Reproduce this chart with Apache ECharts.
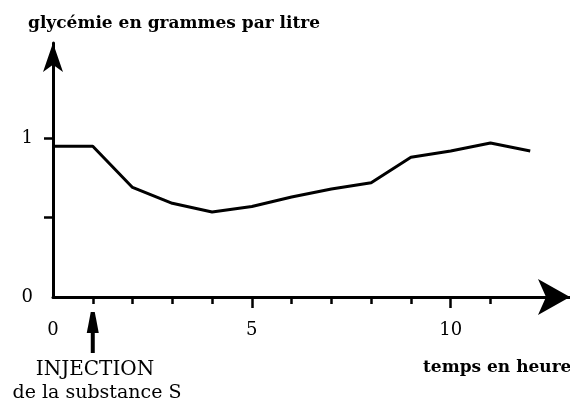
<!DOCTYPE html>
<html>
<head>
<meta charset="utf-8">
<script src="https://cdn.jsdelivr.net/npm/echarts@6/dist/echarts.min.js"></script>
<style>
  html, body { margin: 0; padding: 0; background: #fff; }
  #main { width: 570px; height: 403px; }
</style>
</head>
<body>
<div id="main"></div>
<script>
// temps (h) et glycémie (g/L)
var heures = [0, 1, 2, 3, 4, 5, 6, 7, 8, 9, 10, 11, 12];
var glycemie = [0.95, 0.95, 0.69, 0.59, 0.535, 0.57, 0.63, 0.68, 0.72, 0.88, 0.92, 0.97, 0.92];
var ticksX = [1, 2, 3, 4, 6, 7, 8, 9, 11];
var ticksXLong = [5, 10];
var labelsX = [0, 5, 10];
var ticksY = [0.5, 1];
var labelsY = [0, 1];
var injection = 1; // heure de l'injection

var serif = 'DejaVu Serif';
var points = [];
for (var i = 0; i < heures.length; i++) {
	points.push([heures[i], glycemie[i]]);
}

var chart = echarts.init(document.getElementById('main'));
var option = {
	animation: false,
	backgroundColor: '#fff',
	title: [{
		text: 'glycémie en grammes par litre',
		left: 23, top: 10,
		textStyle: { fontFamily: serif, fontWeight: 'bold', fontSize: 17, color: '#000' }
	}, {
		text: 'temps en heure',
		left: 418, top: 354,
		textStyle: { fontFamily: serif, fontWeight: 'bold', fontSize: 17, color: '#000' }
	}],
	grid: { left: 53, right: -3, top: 43, bottom: 106, containLabel: false },
	xAxis: [{
		type: 'value',
		min: 0, max: 13,
		axisLine: {
			show: true,
			lineStyle: { color: '#000', width: 3 },
			symbol: ['none', 'arrow'],
			symbolSize: [27, 32]
		},
		axisTick: { show: true, customValues: ticksX, length: 7, lineStyle: { color: '#000', width: 2.5 } },
		axisLabel: {
			customValues: labelsX, margin: 24,
			fontFamily: serif, fontSize: 18, color: '#000'
		},
		splitLine: { show: false }
	}, {
		type: 'value',
		min: 0, max: 13,
		position: 'bottom',
		axisLine: { show: false },
		axisTick: { show: true, customValues: ticksXLong, length: 11, lineStyle: { color: '#000', width: 2.5 } },
		axisLabel: { show: false },
		splitLine: { show: false }
	}],
	yAxis: {
		type: 'value',
		min: 0, max: 1.6,
		axisLine: {
			show: true,
			lineStyle: { color: '#000', width: 3 },
			symbol: ['none', 'arrow'],
			symbolSize: [15, 29]
		},
		axisTick: { show: true, customValues: ticksY, length: 9, lineStyle: { color: '#000', width: 2.5 } },
		axisLabel: {
			customValues: labelsY, margin: 20,
			fontFamily: serif, fontSize: 18, color: '#000'
		},
		splitLine: { show: false }
	},
	series: [{
		type: 'line',
		data: points,
		symbol: 'none',
		lineStyle: { color: '#000', width: 3 },
		z: 3
	}]
};
chart.setOption(option);

// flèche d'injection sous l'axe, placée à l'heure de l'injection
var px = chart.convertToPixel({ xAxisIndex: 0 }, injection);
chart.setOption({
	graphic: [{
		type: 'polygon',
		shape: { points: [[px - 1.5, 333], [px - 6, 333], [px - 2, 312], [px + 2, 312], [px + 6, 333], [px + 1.5, 333]] },
		style: { fill: '#000' }
	}, {
		type: 'rect',
		shape: { x: px - 2, y: 330, width: 4, height: 23 },
		style: { fill: '#000' }
	}, {
		type: 'text',
		x: 95, y: 370,
		style: { text: 'INJECTION', font: '20px "DejaVu Serif"', fill: '#000', align: 'center', verticalAlign: 'middle' }
	}, {
		type: 'text',
		x: 97, y: 393,
		style: { text: 'de la substance S', font: '19px "DejaVu Serif"', fill: '#000', align: 'center', verticalAlign: 'middle' }
	}]
});
</script>
</body>
</html>
